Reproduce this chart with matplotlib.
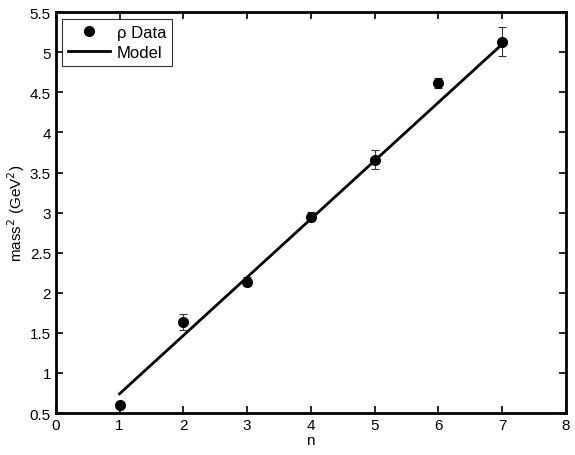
import matplotlib.pyplot as plt

plt.rcParams['font.family'] = ['Liberation Sans', 'DejaVu Sans']

n = [1, 2, 3, 4, 5, 6, 7]
mass2 = [0.60, 1.64, 2.14, 2.95, 3.66, 4.62, 5.13]
mass2_err = [0.03, 0.10, 0.06, 0.06, 0.12, 0.06, 0.18]
model_n = [1, 7]
model_mass2 = [0.74, 5.10]

fig = plt.figure(figsize=(5.75, 4.56), dpi=100)
ax = fig.add_axes([0.097, 0.092, 0.887, 0.879])

ax.errorbar(n, mass2, yerr=mass2_err, fmt='none', ecolor='#333333',
            elinewidth=0.8, capsize=3, capthick=0.8)
ax.plot(n, mass2, 'o', color='black', markersize=7, label=u'\u03c1 Data')
ax.plot(model_n, model_mass2, color='black', linewidth=2, label='Model')

ax.set_xlim(0, 8)
ax.set_ylim(0.5, 5.5)
ax.set_xticks(range(0, 9))
ax.set_yticks([0.5, 1, 1.5, 2, 2.5, 3, 3.5, 4, 4.5, 5, 5.5])
ax.set_yticklabels(['0.5', '1', '1.5', '2', '2.5', '3', '3.5', '4', '4.5', '5', '5.5'])
ax.tick_params(direction='in', length=5, width=1.2, labelsize=11, top=True, right=True,
               labeltop=False, labelright=False)
for s in ax.spines.values():
    s.set_linewidth(2)
ax.set_xlabel('n', fontsize=11, labelpad=1)
ax.set_ylabel('mass$^2$ (GeV$^2$)', fontsize=11, labelpad=2)

leg = ax.legend(loc='upper left', fontsize=12, frameon=True, fancybox=False,
                edgecolor='black', borderaxespad=0.4, handlelength=2.5,
                borderpad=0.35, labelspacing=0.3, handletextpad=0.4)
leg.get_frame().set_linewidth(0.8)

fig.savefig('out.png', dpi=100)
